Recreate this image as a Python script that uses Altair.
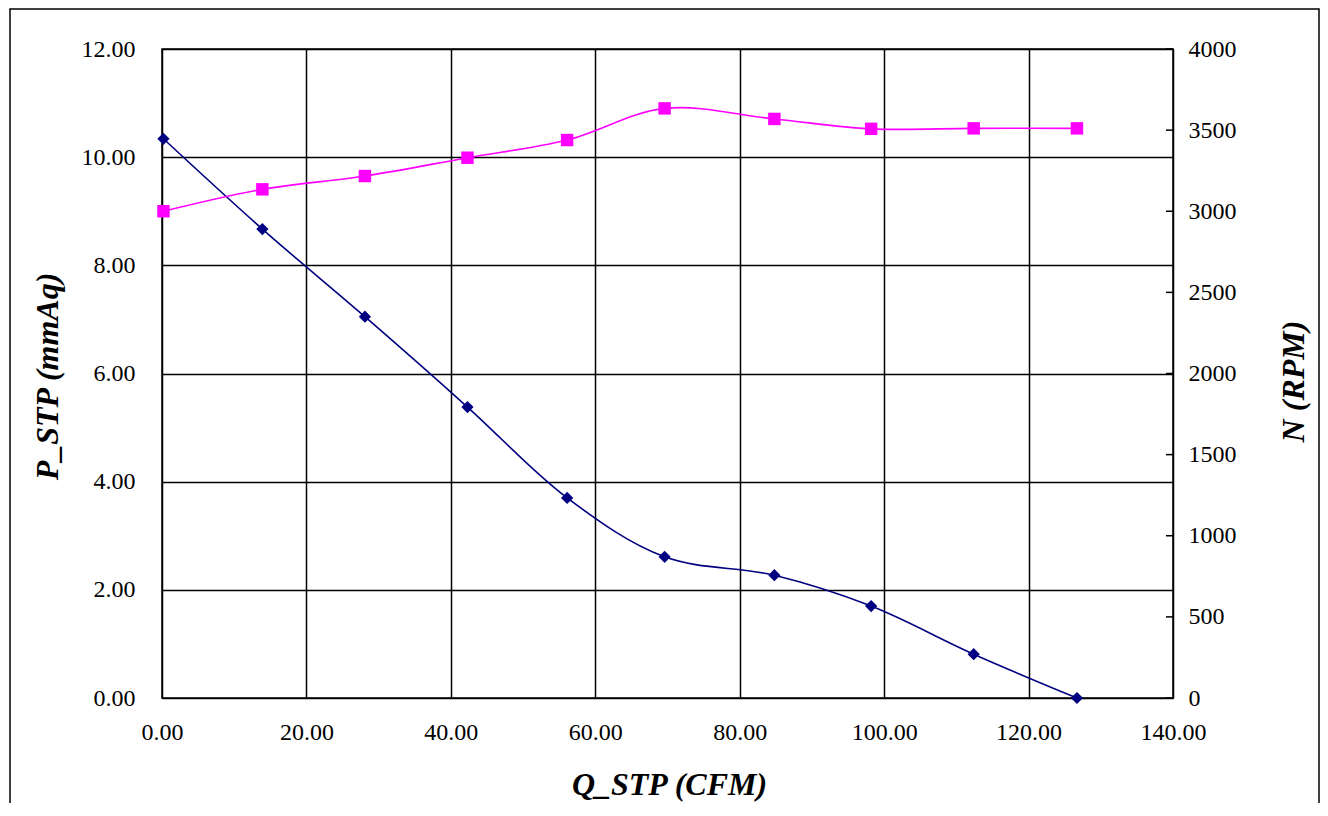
import altair as alt
import pandas as pd

Q = [0.2, 13.9, 28.1, 42.3, 56.1, 69.6, 84.8, 98.2, 112.4, 126.7]
P = [10.34, 8.67, 7.05, 5.38, 3.70, 2.61, 2.27, 1.70, 0.81, 0.0]
N = [3000, 3135, 3217, 3330, 3439, 3634, 3569, 3508, 3511, 3511]
x_ticks = [0, 20, 40, 60, 80, 100, 120, 140]
p_ticks = [0, 2, 4, 6, 8, 10, 12]
n_ticks = [0, 500, 1000, 1500, 2000, 2500, 3000, 3500, 4000]

df = pd.DataFrame({"Q": Q, "P": P, "N": N})
tick_df = pd.DataFrame({"t": n_ticks})

W, H = 1011, 649
FONT = "Liberation Serif"

x_enc = alt.X("Q:Q", scale=alt.Scale(domain=[0, 140], nice=False),
              axis=alt.Axis(values=x_ticks, format=".2f", title="Q_STP (CFM)",
                            grid=True, gridColor="black", gridWidth=1.5,
                            ticks=False, labelPadding=22, domain=False, labelFlush=False,
                            titleX=507, titleY=86, titleBaseline="middle"))

p_axis = alt.Axis(values=p_ticks, format=".2f", title="P_STP (mmAq)",
                  grid=True, gridColor="black", gridWidth=1.5,
                  ticks=False, labelPadding=27, domain=False, labelFlush=False,
                  titleAngle=270, titleX=-115, titleY=327,
                  titleBaseline="middle", titleAlign="center")
n_axis = alt.Axis(values=n_ticks, format="d", title="N (RPM)", orient="right",
                  grid=False, ticks=False, labelPadding=15, domain=False, labelFlush=False,
                  titleAngle=270, titleX=120, titleY=332,
                  titleBaseline="middle", titleAlign="center")

p_scale = alt.Scale(domain=[0, 12], nice=False)
n_scale = alt.Scale(domain=[0, 4000], nice=False)

base = alt.Chart(df)
p_line = base.mark_line(color="#000080", strokeWidth=1.6, interpolate="catmull-rom").encode(
    x=x_enc, y=alt.Y("P:Q", scale=p_scale, axis=p_axis))
p_pts = base.mark_point(shape="diamond", filled=True, color="#000080", size=150, opacity=1).encode(
    x=x_enc, y=alt.Y("P:Q", scale=p_scale, axis=p_axis))

n_line = base.mark_line(color="#FF00FF", strokeWidth=1.6, interpolate="catmull-rom").encode(
    x=x_enc, y=alt.Y("N:Q", scale=n_scale, axis=n_axis))
n_pts = base.mark_square(color="#FF00FF", size=155, opacity=1).encode(
    x=x_enc, y=alt.Y("N:Q", scale=n_scale, axis=n_axis))
n_tk = alt.Chart(tick_df).mark_rule(color="black", strokeWidth=1.5).encode(
    y=alt.Y("t:Q", scale=n_scale, axis=n_axis),
    x=alt.value(W - 7), x2=alt.value(W))

border = alt.Chart(alt.Data(values=[{}])).mark_rect(
    fill=None, stroke="black", strokeWidth=1.5).encode(
    x=alt.value(-152), x2=alt.value(W + 146),
    y=alt.value(-40), y2=alt.value(H + 130))

left = alt.layer(p_line, p_pts)
right = alt.layer(n_line, n_pts, n_tk)

chart = alt.layer(left, right, border).resolve_scale(y="independent").properties(
    width=W, height=H,
    autosize="none",
    background="white",
    padding={"left": 154, "top": 41, "right": 147, "bottom": 105},
).configure_view(stroke="black", strokeWidth=1.5).configure_axis(
    labelFont=FONT, labelFontSize=24, labelColor="black",
    titleFont=FONT, titleFontSize=32, titleFontStyle="italic", titleFontWeight="bold",
    titleColor="black",
)

chart.save("out.html", embed_options={"renderer": "svg", "actions": False})
